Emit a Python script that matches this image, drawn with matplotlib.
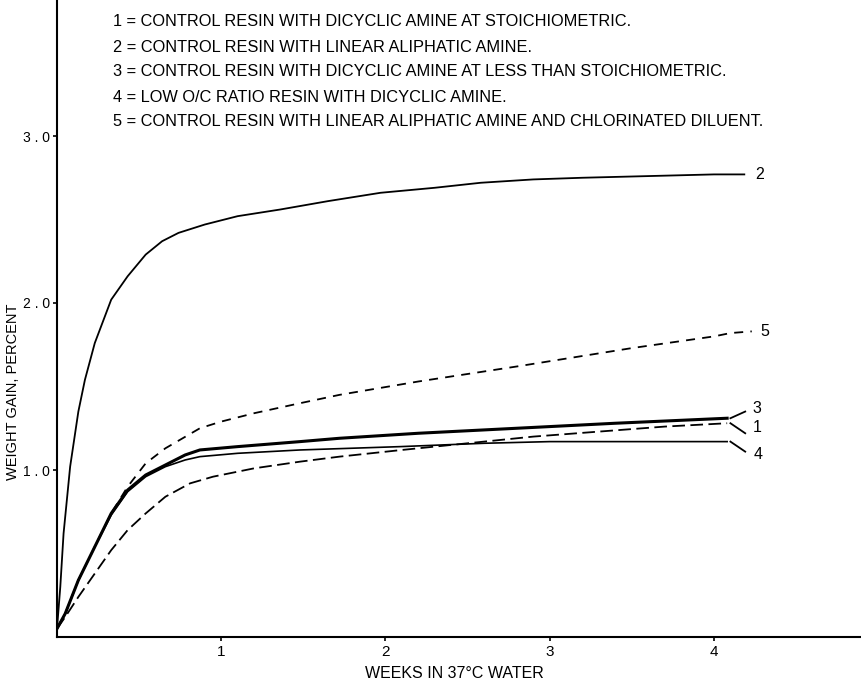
import matplotlib
matplotlib.use("Agg")
import matplotlib.pyplot as plt

plt.rcParams['font.family'] = ['Liberation Sans', 'DejaVu Sans']

# ---- data (weeks in 37 C water, weight gain percent) ----
c1_x = [0.0, 0.05, 0.13, 0.23, 0.33, 0.43, 0.54, 0.66, 0.81, 0.95, 1.2, 1.48, 1.72, 2.1, 2.5, 2.9, 3.3, 3.7, 4.08]
c1_y = [0.05, 0.12, 0.24, 0.38, 0.52, 0.64, 0.74, 0.84, 0.92, 0.96, 1.01, 1.05, 1.08, 1.12, 1.16, 1.20, 1.23, 1.26, 1.28]

c2_x = [0.0, 0.02, 0.04, 0.08, 0.13, 0.17, 0.23, 0.33, 0.43, 0.54, 0.64, 0.74, 0.9, 1.1, 1.36, 1.65, 1.97, 2.3, 2.58, 2.9, 3.2, 3.6, 4.0, 4.19]
c2_y = [0.05, 0.30, 0.62, 1.02, 1.35, 1.54, 1.76, 2.02, 2.16, 2.29, 2.37, 2.42, 2.47, 2.52, 2.56, 2.61, 2.66, 2.69, 2.72, 2.74, 2.75, 2.76, 2.77, 2.77]

c3_x = [0.0, 0.05, 0.13, 0.23, 0.33, 0.43, 0.54, 0.66, 0.78, 0.87, 1.1, 1.48, 1.72, 2.2, 2.8, 3.4, 4.08]
c3_y = [0.05, 0.14, 0.34, 0.54, 0.74, 0.88, 0.97, 1.03, 1.09, 1.12, 1.14, 1.17, 1.19, 1.22, 1.25, 1.28, 1.31]

c4_x = [0.0, 0.05, 0.13, 0.23, 0.33, 0.43, 0.54, 0.66, 0.78, 0.87, 1.1, 1.48, 2.09, 2.6, 3.0, 3.5, 4.08]
c4_y = [0.05, 0.14, 0.34, 0.54, 0.73, 0.87, 0.96, 1.02, 1.06, 1.08, 1.10, 1.12, 1.14, 1.16, 1.17, 1.17, 1.17]

c5_x = [0.0, 0.05, 0.13, 0.23, 0.33, 0.43, 0.54, 0.66, 0.87, 1.0, 1.2, 1.48, 1.72, 2.2, 2.8, 3.5, 4.0, 4.1, 4.23]
c5_y = [0.05, 0.14, 0.34, 0.54, 0.74, 0.90, 1.04, 1.13, 1.25, 1.29, 1.34, 1.40, 1.45, 1.53, 1.62, 1.73, 1.80, 1.82, 1.83]

x_ticks = [1, 2, 3, 4]
y_ticks = [1.0, 2.0, 3.0]
y_tick_labels = ["1 . 0", "2 . 0", "3 . 0"]

legend_lines = [
    "1 = CONTROL RESIN WITH DICYCLIC AMINE AT STOICHIOMETRIC.",
    "2 = CONTROL RESIN WITH LINEAR ALIPHATIC AMINE.",
    "3 = CONTROL RESIN WITH DICYCLIC AMINE AT LESS THAN STOICHIOMETRIC.",
    "4 = LOW O/C RATIO RESIN WITH DICYCLIC AMINE.",
    "5 = CONTROL RESIN WITH LINEAR ALIPHATIC AMINE AND CHLORINATED DILUENT.",
]
curve_labels = ["1", "2", "3", "4", "5"]

# ---- figure ----
W, H = 862, 685
fig = plt.figure(figsize=(W / 100, H / 100), dpi=100)
x0_px, y0_px = 57, 637
ax = fig.add_axes([x0_px / W, (H - y0_px) / H, (W - 2 - x0_px) / W, (y0_px - 1) / H])
px_per_week = 164.25
px_per_unit = 167.0
ax.set_xlim(0, (W - 2 - x0_px) / px_per_week)
ax.set_ylim(0, (y0_px - 1) / px_per_unit)

ax.plot(c2_x, c2_y, color='black', lw=1.3, solid_capstyle='butt')
ax.plot(c3_x, c3_y, color='black', lw=2.2)
ax.plot(c4_x, c4_y, color='black', lw=1.2)
ax.plot(c1_x, c1_y, color='black', lw=1.3, dashes=(7, 3))
ax.plot(c5_x, c5_y, color='black', lw=1.3, dashes=(5, 4))

# leader lines and end labels
lbl_fs = 11.5
ax.plot([c3_x[-1] + 0.02, 4.19], [c3_y[-1], 1.35], color='black', lw=1.3)
ax.plot([c1_x[-1] + 0.02, 4.19], [c1_y[-1], 1.22], color='black', lw=1.3)
ax.plot([c4_x[-1] + 0.02, 4.19], [c4_y[-1], 1.11], color='black', lw=1.3)
ax.text(4.235, 1.37, curve_labels[2], fontsize=lbl_fs, va='center', ha='left')
ax.text(4.235, 1.255, curve_labels[0], fontsize=lbl_fs, va='center', ha='left')
ax.text(4.24, 1.09, curve_labels[3], fontsize=lbl_fs, va='center', ha='left')
ax.text(4.25, c2_y[-1], curve_labels[1], fontsize=lbl_fs, va='center', ha='left')
ax.text(4.28, c5_y[-1], curve_labels[4], fontsize=lbl_fs, va='center', ha='left')

for s in ['top', 'right']:
    ax.spines[s].set_visible(False)
for s in ['left', 'bottom']:
    ax.spines[s].set_linewidth(1.5)

ax.set_xticks(x_ticks)
ax.set_xticklabels([str(t) for t in x_ticks], fontsize=11)
ax.set_yticks(y_ticks)
ax.set_yticklabels(y_tick_labels, fontsize=10)
ax.tick_params(axis='both', length=3, width=1.2, direction='out')
ax.tick_params(axis='y', pad=2)
ax.tick_params(axis='x', pad=3)

fig.text(454 / W, 1 - 674 / H, "WEEKS IN 37°C WATER", fontsize=11.5, ha='center', va='center')
fig.text(13 / W, 1 - 392 / H, "WEIGHT GAIN, PERCENT", fontsize=10.5, ha='center', va='center',
         rotation=90)

leg_y = [22, 47, 72, 97, 122]
for yy, t in zip(leg_y, legend_lines):
    fig.text(113 / W, 1 - yy / H, t, fontsize=11.75, ha='left', va='center')

fig.savefig("out.png", dpi=100)
